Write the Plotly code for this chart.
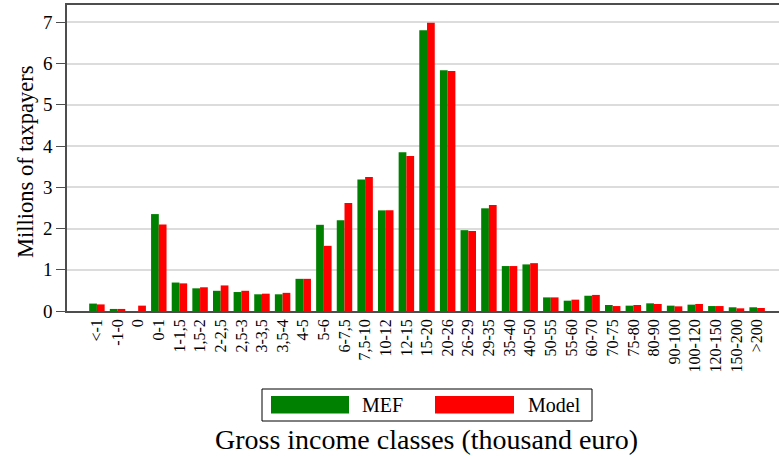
import plotly.graph_objects as go

categories = ["<-1", "-1-0", "0", "0-1", "1-1,5", "1,5-2", "2-2,5", "2,5-3", "3-3,5", "3,5-4",
              "4-5", "5-6", "6-7,5", "7,5-10", "10-12", "12-15", "15-20", "20-26", "26-29", "29-35",
              "35-40", "40-50", "50-55", "55-60", "60-70", "70-75", "75-80", "80-90", "90-100",
              "100-120", "120-150", "150-200", ">200"]

mef = [0.18, 0.05, 0.0, 2.35, 0.69, 0.55, 0.49, 0.46, 0.405, 0.405,
       0.78, 2.09, 2.20, 3.19, 2.44, 3.85, 6.81, 5.84, 1.96, 2.49,
       1.09, 1.13, 0.33, 0.25, 0.37, 0.146, 0.13, 0.186, 0.13,
       0.154, 0.12, 0.09, 0.09]

model = [0.16, 0.05, 0.13, 2.10, 0.67, 0.575, 0.62, 0.49, 0.42, 0.44,
         0.78, 1.58, 2.62, 3.25, 2.44, 3.76, 6.99, 5.82, 1.94, 2.57,
         1.09, 1.16, 0.33, 0.275, 0.39, 0.12, 0.146, 0.17, 0.113,
         0.17, 0.12, 0.065, 0.073]

y_ticks = [0, 1, 2, 3, 4, 5, 6, 7]

FONT = "Liberation Serif"
GREEN = "#008000"
RED = "#FF0000"
AXIS = "#4d4d4d"

fig = go.Figure()
fig.add_trace(go.Bar(x=categories, y=mef, name="MEF", marker=dict(color=GREEN, line=dict(width=0)),
                     showlegend=False))
fig.add_trace(go.Bar(x=categories, y=model, name="Model", marker=dict(color=RED, line=dict(width=0)),
                     showlegend=False))

W, H = 779, 456
ml, mr, mt, mb = 67, 0, 5, 145

fig.update_layout(
    width=W, height=H,
    margin=dict(l=ml, r=mr, t=mt, b=mb, pad=0, autoexpand=False),
    paper_bgcolor="white", plot_bgcolor="white",
    barmode="group", bargap=0.25, bargroupgap=0,
    font=dict(family=FONT, color="black"),
    showlegend=False,
    xaxis=dict(
        type="category", range=[-1.45, 33.06], automargin=False,
        showline=True, linecolor=AXIS, linewidth=1.5, mirror=True,
        showgrid=False, ticks="", tickangle=-90,
        tickfont=dict(family=FONT, size=16, color="black"),
        zeroline=False,
    ),
    yaxis=dict(
        range=[0, 7.42], tickvals=y_ticks, automargin=False,
        showline=True, linecolor=AXIS, linewidth=1.5, mirror=False,
        showgrid=True, gridcolor="#dcdcdc", gridwidth=1.5,
        ticks="outside", ticklen=9, tickwidth=1.2, tickcolor=AXIS,
        tickfont=dict(family=FONT, size=19, color="black"),
        zeroline=False,
    ),
)

pw = W - ml - mr
ph = H - mt - mb
def px(xp):
    return (xp - ml) / pw
def py(yp):
    return (H - mb - yp) / ph

# Axis titles
fig.add_annotation(text="Millions of taxpayers", xref="paper", yref="paper",
                   x=px(25), y=py(162), xanchor="center", yanchor="middle", textangle=-90,
                   showarrow=False, font=dict(family=FONT, size=22.5, color="black"))
fig.add_annotation(text="Gross income classes (thousand euro)", xref="paper", yref="paper",
                   x=px(426), y=py(439), xanchor="center", yanchor="middle",
                   showarrow=False, font=dict(family=FONT, size=28, color="black"))

# Legend drawn manually (box, swatches, labels)
fig.add_shape(type="rect", xref="paper", yref="paper", x0=px(262), x1=px(592), y0=py(421), y1=py(389),
              line=dict(color="black", width=1), fillcolor="white")
fig.add_shape(type="rect", xref="paper", yref="paper", x0=px(271), x1=px(349), y0=py(413.5), y1=py(396),
              line=dict(width=0), fillcolor=GREEN)
fig.add_shape(type="rect", xref="paper", yref="paper", x0=px(435), x1=px(514), y0=py(413.5), y1=py(396),
              line=dict(width=0), fillcolor=RED)
fig.add_annotation(text="MEF", xref="paper", yref="paper", x=px(360), y=py(405),
                   xanchor="left", yanchor="middle", showarrow=False,
                   font=dict(family=FONT, size=20, color="black"))
fig.add_annotation(text="Model", xref="paper", yref="paper", x=px(526), y=py(405),
                   xanchor="left", yanchor="middle", showarrow=False,
                   font=dict(family=FONT, size=20, color="black"))

fig.write_html("out.html",
               config={"displayModeBar": False},
               post_script="document.body.style.margin='0';document.body.style.padding='0';")
